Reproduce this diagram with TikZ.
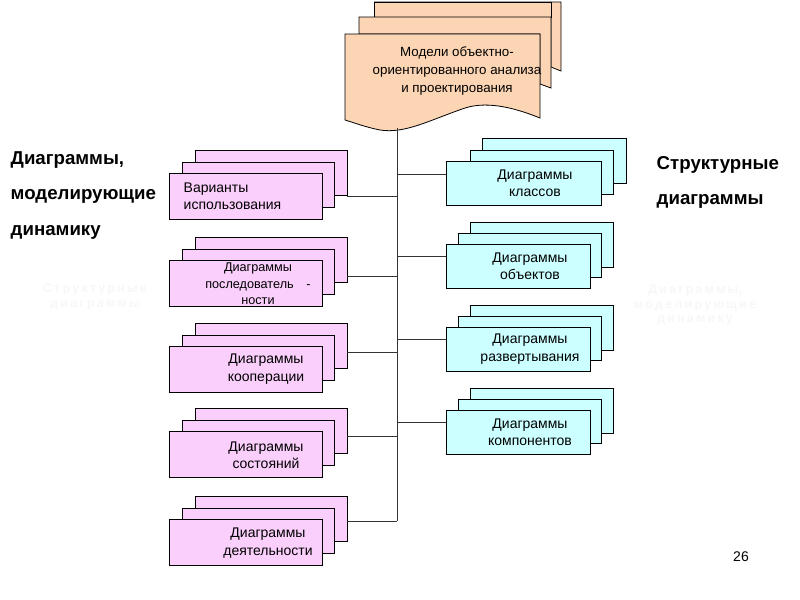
\documentclass[tikz,border=0pt]{standalone}
\usepackage{fontspec}
\setmainfont{Liberation Sans}
\begin{document}
\begin{tikzpicture}[x=0.75pt,y=-0.75pt,
  pk/.style={draw=black,line width=0.6pt},
  cy/.style={draw=black,line width=0.6pt},
  pe/.style={draw=black,line width=0.6pt},
  conn/.style={draw=black!80,line width=0.6pt},
  bt/.style={font=\fontsize{10.5}{13}\selectfont,align=center},
  big/.style={font=\fontsize{14}{16}\selectfont\bfseries,align=left,anchor=west},
  ghost/.style={text=black!3,font=\fontsize{9.5}{11}\selectfont\bfseries,align=center}]
\useasboundingbox (0,0) rectangle (800,600);
\definecolor{pkc}{HTML}{FBCFFB}\definecolor{cyc}{HTML}{CCFFFF}\definecolor{pec}{HTML}{FCD5B4}
\tikzset{pk/.append style={fill=pkc},cy/.append style={fill=cyc},pe/.append style={fill=pec}}
% ghost texts
\node[ghost] (g1) at (95,297) {С\,т\,р\,у\,к\,т\,у\,р\,н\,ы\,е\\д\,и\,а\,г\,р\,а\,м\,м\,ы};
\node[ghost] (g2) at (695,305) {Д\,и\,а\,г\,р\,а\,м\,м\,ы,\\м\,о\,д\,е\,л\,и\,р\,у\,ю\,щ\,и\,е\\д\,и\,н\,а\,м\,и\,к\,у};
% top document stack
\draw[pe] (374,2) -- (561,2) -- (561,71) -- (551,67) -- (551,2) -- cycle;
\draw[pe] (374,2) rectangle (551,17);
\draw[pe] (359,17) -- (551,17) -- (551,88) -- (540,84) -- (540,34) -- (359,34) -- cycle;
\draw[pe] (345,34) -- (540,34) -- (540,118) .. controls (520,110) and (490,100) .. (465,108) .. controls (430,120) and (405,134) .. (380,130) .. controls (365,127) and (355,123) .. (345,120) -- cycle;
\node[bt,font=\fontsize{10}{13.5}\selectfont] (top) at (457,71) {Модели объектно-\\ориентированного анализа\\и проектирования};
\coordinate (t0) at (397,128);
\coordinate (t1) at (397,521);
\draw[conn] (t0) -- (t1);
% left stacks
\foreach \y/\ly/\name in {173/196/a,260/276/b,346/352/c,431/436/d,519/521/e}{
  \draw[pk] (195,\y-23) rectangle (347,\y+22);
  \draw[pk] (182,\y-11) rectangle (334,\y+34);
  \draw[pk] (169,\y) rectangle (322,\y+46);
  \coordinate (L\name) at (347,\ly);
  \coordinate (T\name) at (397,\ly);
  \draw[conn] (L\name) -- (T\name);
}
\node[bt,align=left,anchor=west] (na) at (179,196) {Варианты\\использования};
\node[bt,font=\fontsize{9.5}{12.5}\selectfont] (nb) at (258,284) {Диаграммы\\последователь\quad-\\ности};
\node[bt] (nc) at (266,369) {Диаграммы\\кооперации};
\node[bt] (nd) at (266,455) {Диаграммы\\состояний};
\node[bt] (ne) at (268,543) {Диаграммы\\деятельности};
% right stacks
\draw[cy] (482,138) rectangle (626,183);
\draw[cy] (470,150) rectangle (613,194);
\draw[cy] (446,161) rectangle (601,205);
\node[bt] (nk) at (535,183) {Диаграммы\\классов};
\coordinate (Rk) at (446,174); \coordinate (Tk) at (397,174);
\draw[conn] (Tk) -- (Rk);
\foreach \y/\name in {244/o,327/r,410/m}{
  \draw[cy] (470,\y-22) rectangle (613,\y+23);
  \draw[cy] (458,\y-11) rectangle (601,\y+33);
  \draw[cy] (446,\y) rectangle (590,\y+44);
  \coordinate (R\name) at (446,\y+12); \coordinate (T\name) at (397,\y+12);
  \draw[conn] (T\name) -- (R\name);
}
\node[bt] (no) at (530,266) {Диаграммы\\объектов};
\node[bt] (nr) at (530,349) {Диаграммы\\развертывания};
\node[bt] (nm) at (530,432) {Диаграммы\\компонентов};
% side labels
\node[big] (ld1) at (6,160) {Диаграммы,};
\node[big] (ld2) at (6,196) {моделирующие};
\node[big] (ld3) at (6,232) {динамику};
\node[big] (rs1) at (652,165) {Структурные};
\node[big] (rs2) at (652,201) {диаграммы};
\node[font=\fontsize{10.5}{12}\selectfont] (pg) at (741,557) {26};
\end{tikzpicture}
\end{document}
